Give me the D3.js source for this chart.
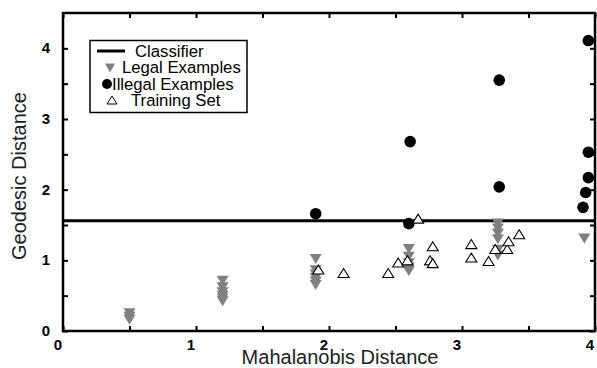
<!DOCTYPE html>
<html>
<head>
<meta charset="utf-8">
<script src="https://cdn.jsdelivr.net/npm/d3@7"></script>
<style>
  body { margin: 0; background: #fff; }
  svg { display: block; font-family: "Liberation Sans", Arial, sans-serif; }
</style>
</head>
<body>
<div id="chart"></div>
<script>
// data
var classifierY = 1.56;

var legalX = [0.5, 0.5, 0.5,
  1.2, 1.2, 1.2, 1.2, 1.2, 1.2,
  1.9, 1.9, 1.9, 1.9, 1.9, 1.9,
  2.6, 2.6, 2.6, 2.6, 2.6,
  3.27, 3.27, 3.27, 3.27, 3.27, 3.27,
  3.92];
var legalY = [0.25, 0.2, 0.16,
  0.71, 0.62, 0.55, 0.5, 0.46, 0.42,
  1.02, 0.86, 0.8, 0.75, 0.7, 0.65,
  1.16, 1.05, 0.96, 0.9, 0.85,
  1.52, 1.45, 1.38, 1.3, 1.15, 1.07,
  1.31];

var illegalX = [1.9, 2.6, 2.61, 3.28, 3.28, 3.95, 3.95, 3.95, 3.93, 3.91];
var illegalY = [1.66, 1.52, 2.68, 3.55, 2.04, 4.11, 2.53, 2.17, 1.96, 1.75];

var trainX = [1.92, 2.11, 2.445, 2.52, 2.59, 2.67, 2.78, 2.76, 2.78,
  3.07, 3.07, 3.2, 3.25, 3.34, 3.35, 3.43];
var trainY = [0.87, 0.82, 0.82, 0.97, 1.0, 1.59, 1.2, 1.0, 0.96,
  1.23, 1.04, 0.99, 1.16, 1.16, 1.27, 1.37];

var xTicks = [0, 0.5, 1, 1.5, 2, 2.5, 3, 3.5, 4];
var yTicks = [0, 0.5, 1, 1.5, 2, 2.5, 3, 3.5, 4];
var xLabels = [0, 1, 2, 3, 4];
var yLabels = [0, 1, 2, 3, 4];

var legendItems = ["Classifier", "Legal Examples", "Illegal Examples", "Training Set"];

var W = 597, H = 368;
var margin = { left: 63, right: 2, top: 13, bottom: 37 };

var svg = d3.select("#chart").append("svg")
  .attr("width", W).attr("height", H);

var x = d3.scaleLinear().domain([0, 4]).range([margin.left, W - margin.right]);
var y = d3.scaleLinear().domain([0, 4.5]).range([H - margin.bottom, margin.top]);

var grayCol = "#808080";

function downTri(w, h) {
  return "M" + (-w / 2) + "," + (-h / 2) + "L" + (w / 2) + "," + (-h / 2) + "L0," + (h / 2) + "Z";
}
function upTri(w, h) {
  return "M" + (-w / 2) + "," + (h / 2) + "L" + (w / 2) + "," + (h / 2) + "L0," + (-h / 2) + "Z";
}

// classifier line
svg.append("line")
  .attr("x1", x(0)).attr("x2", x(4))
  .attr("y1", y(classifierY)).attr("y2", y(classifierY))
  .attr("stroke", "#000").attr("stroke-width", 3);

// legal examples
svg.append("g").selectAll("path")
  .data(d3.range(legalX.length))
  .enter().append("path")
  .attr("d", downTri(12, 10))
  .attr("transform", function (i) { return "translate(" + x(legalX[i]) + "," + y(legalY[i]) + ")"; })
  .attr("fill", grayCol);

// illegal examples
svg.append("g").selectAll("circle")
  .data(d3.range(illegalX.length))
  .enter().append("circle")
  .attr("cx", function (i) { return x(illegalX[i]); })
  .attr("cy", function (i) { return y(illegalY[i]); })
  .attr("r", 5.8)
  .attr("fill", "#000");

// training set
svg.append("g").selectAll("path")
  .data(d3.range(trainX.length))
  .enter().append("path")
  .attr("d", upTri(11, 9))
  .attr("transform", function (i) { return "translate(" + x(trainX[i]) + "," + y(trainY[i]) + ")"; })
  .attr("fill", "#fff")
  .attr("stroke", "#000")
  .attr("stroke-width", 1.1);

// axes: ticks inward on all four sides
var tickLen = 5;
var gx = svg.append("g").attr("transform", "translate(0," + y(0) + ")")
  .call(d3.axisBottom(x).tickValues(xTicks).tickSizeInner(-tickLen).tickSizeOuter(0).tickFormat(""));
var gxt = svg.append("g").attr("transform", "translate(0," + y(4.5) + ")")
  .call(d3.axisTop(x).tickValues(xTicks).tickSizeInner(-tickLen).tickSizeOuter(0).tickFormat(""));
var gy = svg.append("g").attr("transform", "translate(" + x(0) + ",0)")
  .call(d3.axisLeft(y).tickValues(yTicks).tickSizeInner(-tickLen).tickSizeOuter(0).tickFormat(""));
var gyr = svg.append("g").attr("transform", "translate(" + x(4) + ",0)")
  .call(d3.axisRight(y).tickValues(yTicks).tickSizeInner(-tickLen).tickSizeOuter(0).tickFormat(""));
[gx, gxt, gy, gyr].forEach(function (g) {
  g.selectAll(".domain").remove();
  g.selectAll(".tick line").attr("stroke", "#000").attr("stroke-width", 2);
});

// frame
svg.append("rect")
  .attr("x", x(0)).attr("y", y(4.5))
  .attr("width", x(4) - x(0)).attr("height", y(0) - y(4.5))
  .attr("fill", "none").attr("stroke", "#000").attr("stroke-width", 2.5);

// tick labels
svg.append("g").selectAll("text")
  .data(xLabels).enter().append("text")
  .attr("x", function (d) { return x(d) - 5; })
  .attr("y", y(0) + 19)
  .attr("text-anchor", "middle")
  .attr("font-size", 15).attr("font-weight", "bold")
  .text(function (d) { return d; });

svg.append("g").selectAll("text")
  .data(yLabels).enter().append("text")
  .attr("x", x(0) - 13)
  .attr("y", function (d) { return y(d) + 5; })
  .attr("text-anchor", "end")
  .attr("font-size", 15).attr("font-weight", "bold")
  .text(function (d) { return d; });

// axis titles
svg.append("text")
  .attr("x", 340).attr("y", 364)
  .attr("text-anchor", "middle")
  .attr("font-size", 20).attr("fill", "#222")
  .text("Mahalanobis Distance");

svg.append("text")
  .attr("transform", "translate(26,176) rotate(-90)")
  .attr("text-anchor", "middle")
  .attr("font-size", 20).attr("fill", "#222")
  .text("Geodesic Distance");

// legend
var lg = svg.append("g");
lg.append("rect")
  .attr("x", 90).attr("y", 40.5).attr("width", 157).attr("height", 72)
  .attr("fill", "#fff").attr("stroke", "#000").attr("stroke-width", 1.5);

lg.append("line").attr("x1", 97).attr("x2", 125).attr("y1", 51).attr("y2", 51)
  .attr("stroke", "#000").attr("stroke-width", 3);
lg.append("path").attr("d", downTri(10, 9)).attr("transform", "translate(110,68)").attr("fill", grayCol);
lg.append("circle").attr("cx", 107).attr("cy", 84).attr("r", 5).attr("fill", "#000");
lg.append("path").attr("d", upTri(10, 8)).attr("transform", "translate(112,100)")
  .attr("fill", "#fff").attr("stroke", "#000").attr("stroke-width", 1);

var legendTextX = [135, 122, 112, 131];
lg.selectAll("text.lt")
  .data(legendItems).enter().append("text")
  .attr("class", "lt")
  .attr("x", function (d, i) { return legendTextX[i]; })
  .attr("y", function (d, i) { return 57 + i * 16.3; })
  .attr("font-size", 16.7)
  .text(function (d) { return d; });
</script>
</body>
</html>
